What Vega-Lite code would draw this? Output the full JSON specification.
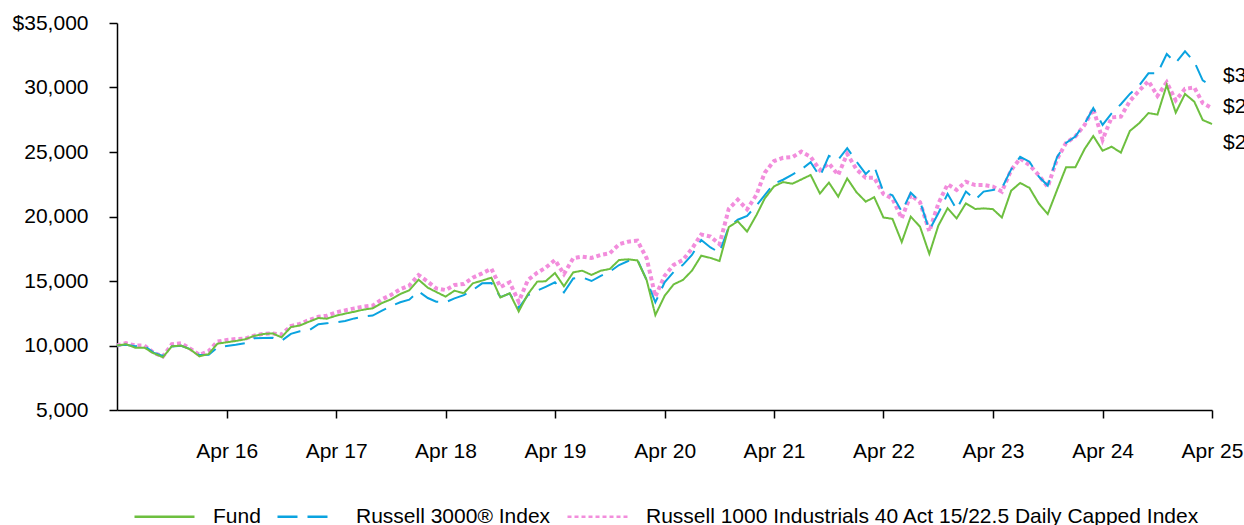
{
  "$schema": "https://vega.github.io/schema/vega-lite/v6.json",
  "width": 1095,
  "height": 387,
  "autosize": {"type": "none"},
  "padding": {"left": 117, "top": 23, "right": 32, "bottom": 115},
  "background": "white",
  "config": {"view": {"stroke": null}, "font": "Liberation Sans"},
  "data": {"values": [
    {"d":"2015-04-01","Fund":10000,"R3000":10000,"R1000":10000},
    {"d":"2015-05-01","Fund":10100,"R3000":10050,"R1000":10180},
    {"d":"2015-06-01","Fund":9830,"R3000":9950,"R1000":10000},
    {"d":"2015-07-01","Fund":9830,"R3000":9970,"R1000":10000},
    {"d":"2015-08-01","Fund":9400,"R3000":9450,"R1000":9450},
    {"d":"2015-09-01","Fund":9090,"R3000":9200,"R1000":9150},
    {"d":"2015-10-01","Fund":9940,"R3000":9930,"R1000":10100},
    {"d":"2015-11-01","Fund":9990,"R3000":9980,"R1000":10180},
    {"d":"2015-12-01","Fund":9700,"R3000":9720,"R1000":9760},
    {"d":"2016-01-01","Fund":9160,"R3000":9260,"R1000":9270},
    {"d":"2016-02-01","Fund":9340,"R3000":9280,"R1000":9570},
    {"d":"2016-03-01","Fund":10140,"R3000":9850,"R1000":10300},
    {"d":"2016-04-01","Fund":10250,"R3000":9960,"R1000":10430},
    {"d":"2016-05-01","Fund":10350,"R3000":10050,"R1000":10500},
    {"d":"2016-06-01","Fund":10480,"R3000":10180,"R1000":10530},
    {"d":"2016-07-01","Fund":10740,"R3000":10560,"R1000":10760},
    {"d":"2016-08-01","Fund":10890,"R3000":10580,"R1000":10910},
    {"d":"2016-09-01","Fund":10940,"R3000":10600,"R1000":10940},
    {"d":"2016-10-01","Fund":10630,"R3000":10370,"R1000":10850},
    {"d":"2016-11-01","Fund":11430,"R3000":10900,"R1000":11510},
    {"d":"2016-12-01","Fund":11550,"R3000":11100,"R1000":11670},
    {"d":"2017-01-01","Fund":11850,"R3000":11180,"R1000":11980},
    {"d":"2017-02-01","Fund":12130,"R3000":11650,"R1000":12230},
    {"d":"2017-03-01","Fund":12080,"R3000":11720,"R1000":12310},
    {"d":"2017-04-01","Fund":12310,"R3000":11800,"R1000":12570},
    {"d":"2017-05-01","Fund":12470,"R3000":11900,"R1000":12720},
    {"d":"2017-06-01","Fund":12620,"R3000":12100,"R1000":12880},
    {"d":"2017-07-01","Fund":12780,"R3000":12250,"R1000":13010},
    {"d":"2017-08-01","Fund":12880,"R3000":12320,"R1000":13090},
    {"d":"2017-09-01","Fund":13290,"R3000":12700,"R1000":13580},
    {"d":"2017-10-01","Fund":13580,"R3000":13050,"R1000":13920},
    {"d":"2017-11-01","Fund":13990,"R3000":13350,"R1000":14360},
    {"d":"2017-12-01","Fund":14280,"R3000":13550,"R1000":14640},
    {"d":"2018-01-01","Fund":15100,"R3000":14200,"R1000":15460},
    {"d":"2018-02-01","Fund":14480,"R3000":13680,"R1000":14950},
    {"d":"2018-03-01","Fund":14150,"R3000":13400,"R1000":14430},
    {"d":"2018-04-01","Fund":13790,"R3000":13350,"R1000":14300},
    {"d":"2018-05-01","Fund":14250,"R3000":13650,"R1000":14690},
    {"d":"2018-06-01","Fund":14050,"R3000":13900,"R1000":14770},
    {"d":"2018-07-01","Fund":14820,"R3000":14300,"R1000":15260},
    {"d":"2018-08-01","Fund":15030,"R3000":14820,"R1000":15590},
    {"d":"2018-09-01","Fund":15260,"R3000":14850,"R1000":15950},
    {"d":"2018-10-01","Fund":13720,"R3000":13750,"R1000":14530},
    {"d":"2018-11-01","Fund":14050,"R3000":14030,"R1000":14900},
    {"d":"2018-12-01","Fund":12640,"R3000":12900,"R1000":13400},
    {"d":"2019-01-01","Fund":13990,"R3000":13900,"R1000":15080},
    {"d":"2019-02-01","Fund":14950,"R3000":14250,"R1000":15640},
    {"d":"2019-03-01","Fund":14980,"R3000":14550,"R1000":16030},
    {"d":"2019-04-01","Fund":15620,"R3000":14900,"R1000":16630},
    {"d":"2019-05-01","Fund":14590,"R3000":14120,"R1000":15540},
    {"d":"2019-06-01","Fund":15670,"R3000":15200,"R1000":16760},
    {"d":"2019-07-01","Fund":15800,"R3000":15280,"R1000":16890},
    {"d":"2019-08-01","Fund":15470,"R3000":15000,"R1000":16790},
    {"d":"2019-09-01","Fund":15800,"R3000":15400,"R1000":17020},
    {"d":"2019-10-01","Fund":15930,"R3000":15720,"R1000":17150},
    {"d":"2019-11-01","Fund":16630,"R3000":16240,"R1000":17850},
    {"d":"2019-12-01","Fund":16680,"R3000":16550,"R1000":18050},
    {"d":"2020-01-01","Fund":16600,"R3000":16650,"R1000":18130},
    {"d":"2020-02-01","Fund":15070,"R3000":15070,"R1000":16760},
    {"d":"2020-03-01","Fund":12360,"R3000":13350,"R1000":13800},
    {"d":"2020-04-01","Fund":13850,"R3000":14900,"R1000":15400},
    {"d":"2020-05-01","Fund":14740,"R3000":15700,"R1000":16250},
    {"d":"2020-06-01","Fund":15080,"R3000":16250,"R1000":16630},
    {"d":"2020-07-01","Fund":15800,"R3000":17020,"R1000":17500},
    {"d":"2020-08-01","Fund":16960,"R3000":18180,"R1000":18600},
    {"d":"2020-09-01","Fund":16790,"R3000":17600,"R1000":18440},
    {"d":"2020-10-01","Fund":16550,"R3000":17200,"R1000":17850},
    {"d":"2020-11-01","Fund":19180,"R3000":19200,"R1000":20600},
    {"d":"2020-12-01","Fund":19630,"R3000":19750,"R1000":21300},
    {"d":"2021-01-01","Fund":18830,"R3000":20050,"R1000":20550},
    {"d":"2021-02-01","Fund":20100,"R3000":20850,"R1000":21670},
    {"d":"2021-03-01","Fund":21400,"R3000":21650,"R1000":23400},
    {"d":"2021-04-01","Fund":22340,"R3000":22550,"R1000":24300},
    {"d":"2021-05-01","Fund":22670,"R3000":22850,"R1000":24550},
    {"d":"2021-06-01","Fund":22540,"R3000":23250,"R1000":24600},
    {"d":"2021-07-01","Fund":22870,"R3000":23650,"R1000":25030},
    {"d":"2021-08-01","Fund":23220,"R3000":24200,"R1000":24630},
    {"d":"2021-09-01","Fund":21780,"R3000":23100,"R1000":23600},
    {"d":"2021-10-01","Fund":22630,"R3000":24700,"R1000":24110},
    {"d":"2021-11-01","Fund":21540,"R3000":24400,"R1000":23220},
    {"d":"2021-12-01","Fund":22950,"R3000":25300,"R1000":24850},
    {"d":"2022-01-01","Fund":21880,"R3000":24250,"R1000":23650},
    {"d":"2022-02-01","Fund":21150,"R3000":23300,"R1000":23000},
    {"d":"2022-03-01","Fund":21500,"R3000":23900,"R1000":23000},
    {"d":"2022-04-01","Fund":19920,"R3000":21900,"R1000":21750},
    {"d":"2022-05-01","Fund":19820,"R3000":21650,"R1000":21380},
    {"d":"2022-06-01","Fund":18020,"R3000":20380,"R1000":19860},
    {"d":"2022-07-01","Fund":19990,"R3000":21840,"R1000":21670},
    {"d":"2022-08-01","Fund":19210,"R3000":21160,"R1000":21100},
    {"d":"2022-09-01","Fund":17100,"R3000":18950,"R1000":18850},
    {"d":"2022-10-01","Fund":19290,"R3000":20250,"R1000":21000},
    {"d":"2022-11-01","Fund":20640,"R3000":21760,"R1000":22500},
    {"d":"2022-12-01","Fund":19850,"R3000":20550,"R1000":22060},
    {"d":"2023-01-01","Fund":21020,"R3000":21930,"R1000":22700},
    {"d":"2023-02-01","Fund":20580,"R3000":21300,"R1000":22440},
    {"d":"2023-03-01","Fund":20630,"R3000":21930,"R1000":22440},
    {"d":"2023-04-01","Fund":20570,"R3000":22060,"R1000":22320},
    {"d":"2023-05-01","Fund":19920,"R3000":22190,"R1000":21930},
    {"d":"2023-06-01","Fund":22000,"R3000":23650,"R1000":23600},
    {"d":"2023-07-01","Fund":22600,"R3000":24630,"R1000":24500},
    {"d":"2023-08-01","Fund":22220,"R3000":24250,"R1000":23990},
    {"d":"2023-09-01","Fund":21010,"R3000":23100,"R1000":23200},
    {"d":"2023-10-01","Fund":20190,"R3000":22400,"R1000":22300},
    {"d":"2023-11-01","Fund":22050,"R3000":24600,"R1000":24450},
    {"d":"2023-12-01","Fund":23810,"R3000":25700,"R1000":25700},
    {"d":"2024-01-01","Fund":23810,"R3000":26200,"R1000":26200},
    {"d":"2024-02-01","Fund":25230,"R3000":27200,"R1000":27100},
    {"d":"2024-03-01","Fund":26240,"R3000":28400,"R1000":28350},
    {"d":"2024-04-01","Fund":25100,"R3000":27100,"R1000":25950},
    {"d":"2024-05-01","Fund":25410,"R3000":28000,"R1000":27680},
    {"d":"2024-06-01","Fund":24950,"R3000":28700,"R1000":27740},
    {"d":"2024-07-01","Fund":26630,"R3000":29500,"R1000":28950},
    {"d":"2024-08-01","Fund":27230,"R3000":30150,"R1000":29750},
    {"d":"2024-09-01","Fund":28020,"R3000":31100,"R1000":30500},
    {"d":"2024-10-01","Fund":27900,"R3000":31100,"R1000":29350},
    {"d":"2024-11-01","Fund":30190,"R3000":32600,"R1000":30400},
    {"d":"2024-12-01","Fund":28050,"R3000":31900,"R1000":29000},
    {"d":"2025-01-01","Fund":29500,"R3000":32800,"R1000":29900},
    {"d":"2025-02-01","Fund":28900,"R3000":32000,"R1000":30000},
    {"d":"2025-03-01","Fund":27480,"R3000":30550,"R1000":28800},
    {"d":"2025-04-01","Fund":27170,"R3000":30100,"R1000":28400}
  ]},
  "transform": [{"fold": ["R1000", "R3000", "Fund"], "as": ["series", "value"]}],
  "encoding": {
    "x": {
      "field": "d", "type": "temporal",
      "scale": {"type": "utc", "nice": false,
        "domain": [{"year": 2015, "month": 4, "date": 1, "utc": true}, {"year": 2025, "month": 4, "date": 1, "utc": true}]},
      "axis": {
        "title": null, "grid": false,
        "values": [
          {"year": 2016, "month": 4, "date": 1, "utc": true},
          {"year": 2017, "month": 4, "date": 1, "utc": true},
          {"year": 2018, "month": 4, "date": 1, "utc": true},
          {"year": 2019, "month": 4, "date": 1, "utc": true},
          {"year": 2020, "month": 4, "date": 1, "utc": true},
          {"year": 2021, "month": 4, "date": 1, "utc": true},
          {"year": 2022, "month": 4, "date": 1, "utc": true},
          {"year": 2023, "month": 4, "date": 1, "utc": true},
          {"year": 2024, "month": 4, "date": 1, "utc": true},
          {"year": 2025, "month": 4, "date": 1, "utc": true}
        ],
        "labelExpr": "'Apr ' + utcFormat(datum.value, '%y')",
        "labelFont": "Liberation Sans", "labelFontSize": 21, "labelColor": "black",
        "labelPadding": 22, "labelFlush": false, "labelOverlap": false,
        "domainColor": "black", "domainWidth": 1.5,
        "tickColor": "black", "tickWidth": 1.5, "tickSize": 8
      }
    },
    "y": {
      "field": "value", "type": "quantitative",
      "scale": {"domain": [5000, 35000], "nice": false, "zero": false},
      "axis": {
        "title": null, "grid": false,
        "values": [5000, 10000, 15000, 20000, 25000, 30000, 35000],
        "labelExpr": "datum.value === 35000 ? '$35,000' : format(datum.value, ',')",
        "labelFont": "Liberation Sans", "labelFontSize": 21, "labelColor": "black",
        "labelPadding": 21, "labelFlush": false, "labelOverlap": false,
        "domainColor": "black", "domainWidth": 1.5,
        "tickColor": "black", "tickWidth": 1.5, "tickSize": 8
      }
    }
  },
  "layer": [
    {
      "mark": {"type": "line"},
      "encoding": {
        "color": {
          "field": "series", "type": "nominal",
          "scale": {"domain": ["Fund", "R3000", "R1000"], "range": ["#6DBF3F", "#0AA3E0", "#F28DDC"]},
          "legend": {
            "title": null, "orient": "none", "legendX": 16, "legendY": 462, "direction": "horizontal",
            "symbolType": "stroke", "symbolSize": 3600, "symbolStrokeWidth": 2.5,
            "labelFont": "Liberation Sans", "labelFontSize": 21, "labelColor": "black", "labelLimit": 800,
            "labelOffset": 17, "columnPadding": 11, "padding": 0,
            "labelExpr": "datum.label === 'R3000' ? 'Russell 3000® Index' : datum.label === 'R1000' ? 'Russell 1000 Industrials 40 Act 15/22.5 Daily Capped Index' : datum.label"
          }
        },
        "strokeDash": {
          "field": "series", "type": "nominal",
          "scale": {"domain": ["Fund", "R3000", "R1000"], "range": [[1, 0], [20, 10], [4, 3]]},
          "legend": {
            "title": null, "orient": "none", "legendX": 16, "legendY": 462, "direction": "horizontal",
            "symbolType": "stroke", "symbolSize": 3600, "symbolStrokeWidth": 2.5,
            "labelFont": "Liberation Sans", "labelFontSize": 21, "labelColor": "black", "labelLimit": 800,
            "labelOffset": 17, "columnPadding": 11, "padding": 0,
            "labelExpr": "datum.label === 'R3000' ? 'Russell 3000® Index' : datum.label === 'R1000' ? 'Russell 1000 Industrials 40 Act 15/22.5 Daily Capped Index' : datum.label"
          }
        },
        "strokeWidth": {"condition": {"test": "datum.series === 'R1000'", "value": 4}, "value": 2}
      }
    },
    {
      "transform": [{"filter": "datum.series === 'R3000' && utcyear(datum.d) === 2025 && utcmonth(datum.d) === 3"}],
      "mark": {"type": "text", "align": "left", "baseline": "middle", "dx": 11, "dy": -10, "font": "Liberation Sans", "fontSize": 21, "color": "black"},
      "encoding": {"text": {"field": "value", "type": "quantitative", "format": "$,"}}
    },
    {
      "transform": [{"filter": "datum.series === 'R1000' && utcyear(datum.d) === 2025 && utcmonth(datum.d) === 3"}],
      "mark": {"type": "text", "align": "left", "baseline": "middle", "dx": 11, "dy": -1, "font": "Liberation Sans", "fontSize": 21, "color": "black"},
      "encoding": {"text": {"field": "value", "type": "quantitative", "format": "$,"}}
    },
    {
      "transform": [{"filter": "datum.series === 'Fund' && utcyear(datum.d) === 2025 && utcmonth(datum.d) === 3"}],
      "mark": {"type": "text", "align": "left", "baseline": "middle", "dx": 11, "dy": 19, "font": "Liberation Sans", "fontSize": 21, "color": "black"},
      "encoding": {"text": {"field": "value", "type": "quantitative", "format": "$,"}}
    }
  ]
}
